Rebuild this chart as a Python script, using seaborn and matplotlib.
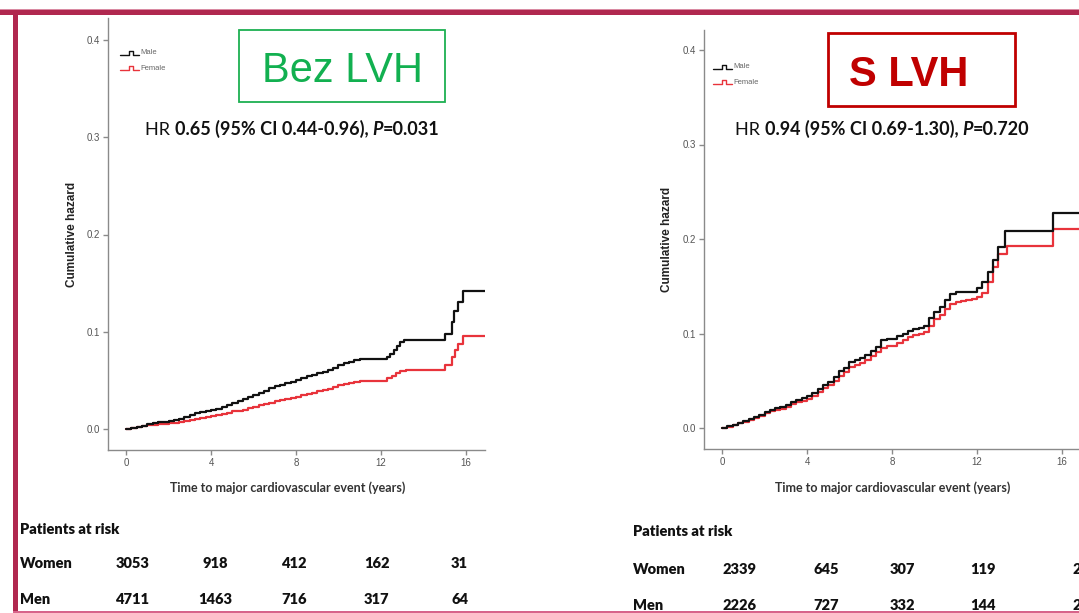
import matplotlib
matplotlib.use("Agg")
import matplotlib.pyplot as plt
import matplotlib.patches as mpatches
import matplotlib.transforms as mtrans
import seaborn as sns
import pandas as pd

# ---------------- data ----------------
# Left panel: without LVH ("Bez LVH")
L_male_t = [0, 0.25, 0.5, 0.75, 1.0, 1.25, 1.5, 1.75, 2.0, 2.25, 2.5, 2.75, 3.0, 3.25, 3.5, 3.75,
            4.0, 4.25, 4.5, 4.75, 5.0, 5.25, 5.5, 5.75, 6.0, 6.25, 6.5, 6.75, 7.0, 7.25, 7.5, 7.75,
            8.0, 8.25, 8.5, 8.75, 9.0, 9.25, 9.5, 9.75, 10.0, 10.25, 10.5, 10.75, 11.0,
            12.3, 12.45, 12.6, 12.75, 12.9, 13.1, 15.0, 15.35, 15.45, 15.65, 15.85, 16.9]
L_male_h = [0, 0.001, 0.002, 0.003, 0.005, 0.006, 0.007, 0.007, 0.008, 0.009,
            0.010, 0.012, 0.014, 0.016, 0.017, 0.018, 0.020, 0.021, 0.023, 0.025,
            0.027, 0.029, 0.031, 0.033, 0.035, 0.037, 0.039, 0.042, 0.044, 0.045,
            0.047, 0.048, 0.050, 0.052, 0.054, 0.056, 0.058, 0.059, 0.061, 0.063,
            0.066, 0.068, 0.069, 0.071, 0.072,
            0.074, 0.077, 0.081, 0.085, 0.089, 0.092, 0.098, 0.110, 0.121, 0.131, 0.142, 0.142]
L_fem_t = [0, 0.25, 0.5, 0.75, 1.0, 1.25, 1.5, 1.75, 2.0, 2.25, 2.5, 2.75, 3.0, 3.25, 3.5, 3.75,
           4.0, 4.25, 4.5, 4.75, 5.0, 5.25, 5.5, 5.75, 6.0, 6.25, 6.5, 6.75, 7.0, 7.25, 7.5, 7.75,
           8.0, 8.25, 8.5, 8.75, 9.0, 9.25, 9.5, 9.75, 10.0, 10.25, 10.5, 10.75, 11.0,
           12.3, 12.5, 12.7, 12.9, 13.2, 15.0, 15.35, 15.5, 15.65, 15.85, 16.9]
L_fem_h = [0, 0.001, 0.002, 0.003, 0.004, 0.004, 0.005, 0.005, 0.006, 0.006,
           0.007, 0.008, 0.009, 0.010, 0.011, 0.012, 0.013, 0.014, 0.015, 0.016,
           0.018, 0.019, 0.020, 0.022, 0.023, 0.025, 0.026, 0.027, 0.029, 0.030,
           0.031, 0.032, 0.033, 0.035, 0.036, 0.037, 0.039, 0.040, 0.041, 0.043,
           0.045, 0.046, 0.047, 0.048, 0.049,
           0.052, 0.055, 0.058, 0.060, 0.061, 0.066, 0.074, 0.081, 0.087, 0.096, 0.096]

# Right panel: with LVH ("S LVH")
R_male_t = [0, 0.25, 0.5, 0.75, 1.0, 1.25, 1.5, 1.75, 2.0, 2.25, 2.5, 2.75, 3.0, 3.25, 3.5, 3.75,
            4.0, 4.25, 4.5, 4.75, 5.0, 5.25, 5.5, 5.75, 6.0, 6.25, 6.5, 6.75, 7.0, 7.25, 7.5, 7.75,
            8.0, 8.25, 8.5, 8.75, 9.0, 9.25, 9.5, 9.75, 10.0, 10.25, 10.5, 10.75, 11.0, 11.25,
            11.5, 11.75, 12.0, 12.25, 12.5, 12.75, 13.0, 13.3, 15.6, 16.9]
R_male_h = [0, 0.002, 0.003, 0.005, 0.007, 0.009, 0.012, 0.014, 0.017, 0.019,
            0.021, 0.022, 0.024, 0.027, 0.030, 0.032, 0.034, 0.037, 0.041, 0.045,
            0.049, 0.054, 0.060, 0.064, 0.070, 0.072, 0.074, 0.077, 0.081, 0.086,
            0.093, 0.094, 0.094, 0.097, 0.100, 0.103, 0.105, 0.106, 0.108, 0.116,
            0.123, 0.128, 0.135, 0.142, 0.144, 0.144, 0.144, 0.144, 0.148, 0.154,
            0.165, 0.178, 0.192, 0.208, 0.227, 0.227]
R_fem_t = [0, 0.25, 0.5, 0.75, 1.0, 1.25, 1.5, 1.75, 2.0, 2.25, 2.5, 2.75, 3.0, 3.25, 3.5, 3.75,
           4.0, 4.25, 4.5, 4.75, 5.0, 5.25, 5.5, 5.75, 6.0, 6.25, 6.5, 6.75, 7.0, 7.25, 7.5, 7.75,
           8.0, 8.25, 8.5, 8.75, 9.0, 9.25, 9.5, 9.75, 10.0, 10.25, 10.5, 10.75, 11.0, 11.25,
           11.5, 11.75, 12.0, 12.25, 12.5, 12.75, 13.0, 13.4, 15.6, 16.9]
R_fem_h = [0, 0.001, 0.003, 0.005, 0.006, 0.008, 0.011, 0.013, 0.016, 0.018,
           0.019, 0.020, 0.022, 0.025, 0.027, 0.029, 0.031, 0.034, 0.038, 0.042,
           0.046, 0.050, 0.055, 0.059, 0.065, 0.067, 0.069, 0.072, 0.076, 0.080,
           0.085, 0.087, 0.087, 0.090, 0.093, 0.096, 0.098, 0.100, 0.102, 0.108,
           0.115, 0.120, 0.126, 0.131, 0.133, 0.134, 0.135, 0.136, 0.139, 0.143,
           0.155, 0.170, 0.184, 0.193, 0.211, 0.211]

x_ticks = [0, 4, 8, 12, 16]
y_ticks = [0.0, 0.1, 0.2, 0.3, 0.4]
y_ticklabels = ["0.0", "0.1", "0.2", "0.3", "0.4"]

L_women_risk = ["3053", "918", "412", "162", "31"]
L_men_risk = ["4711", "1463", "716", "317", "64"]
R_women_risk = ["2339", "645", "307", "119", "24"]
R_men_risk = ["2226", "727", "332", "144", "26"]

L_hr = ("HR", "0.65 (95% CI 0.44-0.96), ", "P", "=0.031")
R_hr = ("HR", "0.94 (95% CI 0.69-1.30), ", "P", "=0.720")

# ---------------- style ----------------
sns.set_theme(style="white")
plt.rcParams["font.family"] = ["Liberation Sans", "DejaVu Sans"]

W, H = 1079, 613
fig = plt.figure(figsize=(W / 100, H / 100), dpi=100, facecolor="white")


def fx(x):
    return x / W


def fy(y):
    return 1 - y / H


BLACK = "#111111"
RED = "#E8333B"
GREY = "#8a8a8a"
TXT_GREY = "#555555"


def make_panel(x0, x1, y0, y1, ymax_px, yzero_px, male_t, male_h, fem_t, fem_h):
    ax = fig.add_axes([fx(x0), fy(y1), (x1 - x0) / W, (y1 - y0) / H])
    df = pd.DataFrame({
        "t": male_t + fem_t,
        "h": male_h + fem_h,
        "sex": ["Male"] * len(male_t) + ["Female"] * len(fem_t),
    })
    sns.lineplot(data=df, x="t", y="h", hue="sex", palette={"Male": BLACK, "Female": RED},
                 estimator=None, sort=False, drawstyle="steps-post", lw=1.6, ax=ax, legend=False,
                 hue_order=["Female", "Male"])
    ppu_y = (yzero_px - ymax_px) / 0.4
    ax.set_ylim((yzero_px - y1) / ppu_y, (yzero_px - y0) / ppu_y)
    ax.set_xlim(-0.85, 16.9)
    ax.set_xticks(x_ticks)
    ax.set_xticklabels([str(v) for v in x_ticks])
    ax.set_yticks(y_ticks)
    ax.set_yticklabels(y_ticklabels)
    for s in ["top", "right"]:
        ax.spines[s].set_visible(False)
    for s in ["left", "bottom"]:
        ax.spines[s].set_color(GREY)
        ax.spines[s].set_linewidth(1.0)
    ax.tick_params(axis="both", which="major", direction="out", length=3.5, width=1.0,
                   color=GREY, labelsize=7, labelcolor=TXT_GREY, pad=2, left=True, bottom=True)
    ax.set_xlabel("")
    ax.set_ylabel("")
    ax.patch.set_alpha(0)
    return ax


axL = make_panel(108, 485, 18, 450, 40, 429, L_male_t, L_male_h, L_fem_t, L_fem_h)
axR = make_panel(704, 1081, 30, 449, 50, 428, R_male_t, R_male_h, R_fem_t, R_fem_h)

# axis labels
for xlab, ycen, xc, yl in [(72, 234, 288, 488), (667, 239, 893, 488)]:
    fig.text(fx(xlab), fy(ycen), "Cumulative hazard", rotation=90, ha="center", va="center",
             fontsize=8.5, fontweight="bold", color="#222222")
    fig.text(fx(xc), fy(yl), "Time to major cardiovascular event (years)", ha="center",
             va="center", fontsize=9, fontweight="bold", color="#333333", family="Lato")


# small legends
def mini_legend(x, y_male, y_fem):
    for yy, col, lab in [(y_male, BLACK, "Male"), (y_fem, RED, "Female")]:
        xs = [fx(x), fx(x + 9), fx(x + 9), fx(x + 13), fx(x + 13), fx(x + 19)]
        ys = [fy(yy + 2), fy(yy + 2), fy(yy - 2), fy(yy - 2), fy(yy + 2), fy(yy + 2)]
        fig.add_artist(plt.Line2D(xs, ys, color=col, lw=1.0, transform=fig.transFigure))
        fig.text(fx(x + 20), fy(yy), lab, ha="left", va="center", fontsize=5.5, color="#666666")


mini_legend(120, 53, 68)
mini_legend(713, 67, 82)


# HR text
def hr_text(x, ybase, parts):
    t1 = fig.text(fx(x), fy(ybase), parts[0] + " ", ha="left", va="baseline", fontsize=13,
                  color="#111111", family="Lato")
    t2 = fig.text(0, 0, parts[1], ha="left", va="baseline", fontsize=13, fontweight="bold",
                  color="#111111", family="Lato")
    fig.canvas.draw()
    r = fig.canvas.get_renderer()
    bb = t1.get_window_extent(r)
    t2.set_position((bb.x1 / W, fy(ybase)))
    bb2 = t2.get_window_extent(r)
    t3 = fig.text(bb2.x1 / W, fy(ybase), parts[2], ha="left", va="baseline", fontsize=13,
                  fontweight="bold", style="italic", color="#111111", family="Lato")
    bb3 = t3.get_window_extent(r)
    fig.text(bb3.x1 / W, fy(ybase), parts[3], ha="left", va="baseline", fontsize=13,
             fontweight="bold", color="#111111", family="Lato")


hr_text(145, 135, L_hr)
hr_text(735, 135, R_hr)

# title boxes
fig.add_artist(mpatches.Rectangle((fx(239), fy(102)), (445 - 239) / W, (102 - 30) / H,
                                  transform=fig.transFigure, fill=False, ec="#1DB052", lw=1.3))
fig.text(fx(342), fy(82), "Bez LVH", ha="center", va="baseline", fontsize=30, color="#12B050")
fig.add_artist(mpatches.Rectangle((fx(828), fy(106)), (1015 - 828) / W, (106 - 33) / H,
                                  transform=fig.transFigure, fill=False, ec="#C00000", lw=2.0))
fig.text(fx(909), fy(86), "S LVH", ha="center", va="baseline", fontsize=30, fontweight="bold",
         color="#C00000")


# patients at risk tables
def risk_table(ax, x_head, y_head, y_w, y_m, tpos, women, men):
    kw = dict(fontsize=10.5, fontweight="heavy", color="#111111", family="Lato")
    fig.text(fx(x_head), fy(y_head), "Patients at risk", ha="left", va="center", **kw)
    fig.text(fx(x_head), fy(y_w), "Women", ha="left", va="center", **kw)
    fig.text(fx(x_head), fy(y_m), "Men", ha="left", va="center", **kw)
    tr = mtrans.blended_transform_factory(ax.transData, fig.transFigure)
    for tp, w, m in zip(tpos, women, men):
        ax.text(tp, fy(y_w), w, transform=tr, ha="center", va="center", clip_on=False, **kw)
        ax.text(tp, fy(y_m), m, transform=tr, ha="center", va="center", clip_on=False, **kw)


risk_table(axL, 20, 529, 563, 600, [0.3, 4.2, 7.9, 11.8, 15.7], L_women_risk, L_men_risk)
risk_table(axR, 633, 532, 570, 605, [0.8, 4.9, 8.5, 12.3, 16.9], R_women_risk, R_men_risk)

# slide border
MAROON = "#B0284F"
fig.add_artist(mpatches.Rectangle((0, fy(15)), 1, 5 / H, transform=fig.transFigure,
                                  color=MAROON, lw=0))
fig.add_artist(mpatches.Rectangle((0, fy(10)), 1, 1 / H, transform=fig.transFigure,
                                  color="#D98AA2", lw=0))
fig.add_artist(mpatches.Rectangle((fx(13), 0), 5 / W, fy(10), transform=fig.transFigure,
                                  color=MAROON, lw=0))
fig.add_artist(mpatches.Rectangle((fx(13), 0), 1 - fx(13), 2 / H, transform=fig.transFigure,
                                  color="#D8648A", lw=0))

fig.savefig("out.png", dpi=100, facecolor="white")
